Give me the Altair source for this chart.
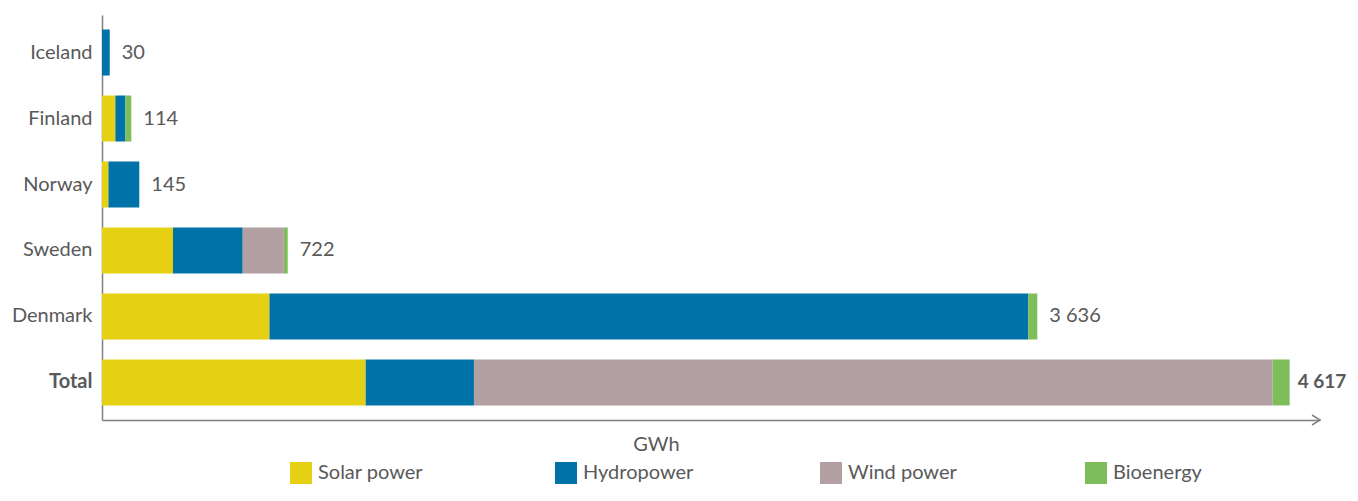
import altair as alt
import pandas as pd

countries = ["Iceland", "Finland", "Norway", "Sweden", "Denmark", "Total"]
sources = ["Solar power", "Hydropower", "Wind power", "Bioenergy"]
colors = ["#E6D013", "#0072A8", "#B3A0A3", "#7DBD5A"]

solar = [0, 52, 25, 276, 651, 1025]
hydro = [30, 39, 120, 271, 2950, 421]
wind = [0, 0, 0, 160, 0, 3105]
bio = [0, 23, 0, 15, 35, 66]
totals = [30, 114, 145, 722, 3636, 4617]
total_labels = ["30", "114", "145", "722", "3 636", "4 617"]

x_max = 4735

rows = []
for i, c in enumerate(countries):
    for j, (s, vals) in enumerate(zip(sources, [solar, hydro, wind, bio])):
        rows.append({"country": c, "source": s, "value": vals[i], "order": j})
df = pd.DataFrame(rows)
lab = pd.DataFrame({"country": countries, "total": totals, "label": total_labels})

font = "Lato"
txt = "#595959"
axc = "#808080"

y_enc = alt.Y(
    "country:N",
    sort=countries,
    scale=alt.Scale(paddingInner=0.303, paddingOuter=0.22),
    axis=alt.Axis(
        title=None, ticks=False, domain=True, domainColor=axc, domainWidth=1.5,
        labelFont=font, labelFontSize=20, labelColor=txt, labelPadding=10,
        labelFontWeight={"condition": {"test": "datum.value == 'Total'", "value": "bold"}, "value": "normal"},
    ),
)

x_scale = alt.Scale(domain=[0, x_max], nice=False, zero=True)

bars = alt.Chart(df).mark_bar(strokeWidth=0).encode(
    x=alt.X(
        "value:Q", stack="zero", scale=x_scale,
        axis=alt.Axis(
            title="GWh", ticks=False, labels=False, grid=False, domain=True,
            domainColor=axc, domainWidth=1.5, titleFont=font, titleFontSize=20,
            titleColor=txt, titleFontWeight="normal", titleX=554, titleY=24,
            titleBaseline="middle", titleAlign="center",
        ),
    ),
    y=y_enc,
    color=alt.Color(
        "source:N",
        scale=alt.Scale(domain=sources, range=colors),
        legend=alt.Legend(
            title=None, orient="none", legendX=188, legendY=447, direction="horizontal",
            columns=4, gridAlign="all", columnPadding=126, symbolType="square",
            symbolSize=484, symbolStrokeWidth=0, labelFont=font, labelFontSize=20,
            labelColor=txt, labelOffset=6, padding=0, symbolOpacity=1,
        ),
    ),
    order=alt.Order("order:Q"),
)

labels_normal = alt.Chart(lab).transform_filter(alt.datum.country != "Total").mark_text(
    align="left", baseline="middle", dx=12, font=font, fontSize=20, color=txt
).encode(
    x=alt.X("total:Q", scale=x_scale),
    y=alt.Y("country:N", sort=countries),
    text="label:N",
)

labels_bold = alt.Chart(lab).transform_filter(alt.datum.country == "Total").mark_text(
    align="left", baseline="middle", dx=8, font=font, fontSize=19, color=txt, fontWeight="bold"
).encode(
    x=alt.X("total:Q", scale=x_scale),
    y=alt.Y("country:N", sort=countries),
    text="label:N",
)

arrow = alt.Chart(pd.DataFrame({"x": [x_max]})).mark_point(
    shape="M -1.6 -1 L 0 0 L -1.6 1", size=100, filled=False, stroke=axc, strokeWidth=1.5, opacity=1
).encode(
    x=alt.X("x:Q", scale=x_scale),
    y=alt.value(405),
)

chart = alt.layer(bars, labels_normal, labels_bold, arrow).properties(
    width=1218, height=405, autosize="none",
    padding={"left": 94, "top": 7, "right": 30, "bottom": 64},
).configure_view(stroke=None)

chart.save("out.html", embed_options={"renderer": "svg", "actions": False})
